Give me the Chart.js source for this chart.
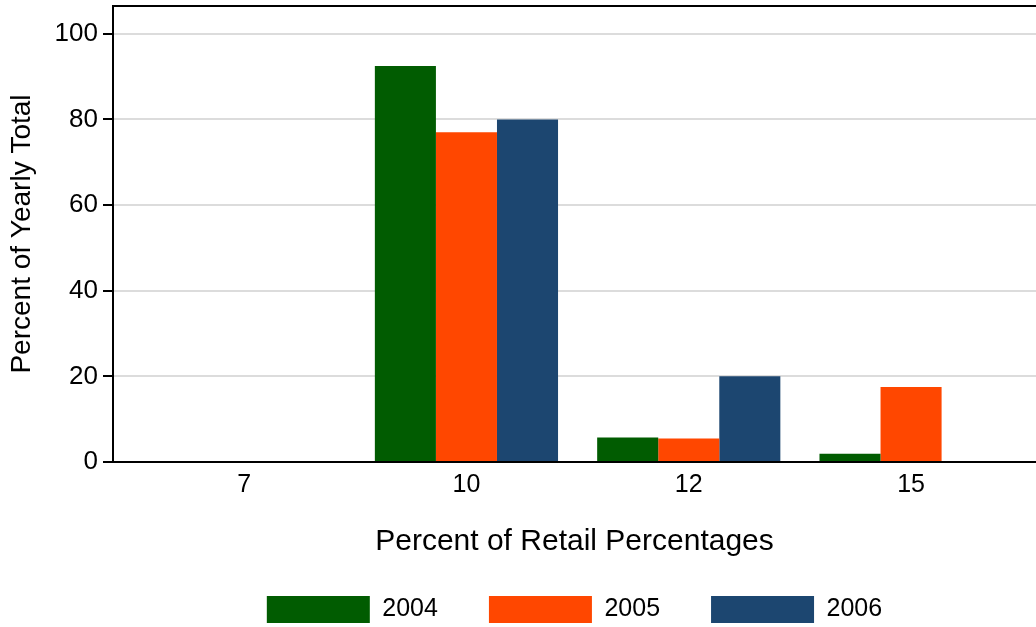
<!DOCTYPE html>
<html>
<head>
<meta charset="utf-8">
<script src="https://cdn.jsdelivr.net/npm/chart.js@4.4.0/dist/chart.umd.min.js"></script>
<style>
    html, body { margin: 0; padding: 0; background: #fff; }
    #wrap { width: 1036px; height: 627px; position: relative; }
</style>
</head>
<body>
<div id="wrap"><canvas id="barChartRetail"></canvas></div>
<script>
const categories = ['7', '10', '12', '15'];
const years = ['2004', '2005', '2006'];
const data2004 = [0, 92.5, 5.7, 1.9];
const data2005 = [0, 77.0, 5.5, 17.5];
const data2006 = [0, 80.0, 20.0, 0];
const yTicks = [0, 20, 40, 60, 80, 100];

const colors = ['#015c01', '#ff4700', '#1c4670'];
const series = [data2004, data2005, data2006];

// box around plot top + legend centred under the plot area
const plotFrame = {
    id: 'plotFrame',
    beforeDraw(chart) {
        const legend = chart.legend;
        const mid = (chart.chartArea.left + chart.chartArea.right) / 2;
        const w = legend.width;
        legend.left = mid - w / 2;
        legend.right = mid + w / 2;
    },
    afterDraw(chart) {
        const { ctx, chartArea } = chart;
        ctx.save();
        ctx.strokeStyle = '#000';
        ctx.lineWidth = 2;
        ctx.beginPath();
        ctx.moveTo(chartArea.left, chartArea.top);
        ctx.lineTo(chartArea.right, chartArea.top);
        ctx.stroke();
        ctx.restore();
    }
};

const canvas = document.getElementById('barChartRetail');
new Chart(canvas.getContext('2d'), {
    type: 'bar',
    data: {
        datasets: years.map((y, k) => ({
            label: y,
            backgroundColor: colors[k],
            borderWidth: 0,
            data: series[k].map((v, i) => ({ x: i, y: v }))
        }))
    },
    options: {
        responsive: true,
        maintainAspectRatio: false,
        animation: false,
        categoryPercentage: 0.824,
        barPercentage: 1.0,
        layout: { padding: { top: 6, left: 5, right: 0, bottom: -6 } },
        plugins: {
            legend: {
                position: 'bottom',
                labels: {
                    boxWidth: 103,
                    boxHeight: 27,
                    padding: 51,
                    color: '#000',
                    font: { family: 'Liberation Sans', size: 25 }
                }
            },
            tooltip: { enabled: false }
        },
        scales: {
            x: {
                type: 'linear',
                offset: false,
                min: -0.59,
                max: 3.562,
                afterBuildTicks: function (axis) {
                    axis.ticks = categories.map((c, i) => ({ value: i }));
                },
                ticks: {
                    color: '#000',
                    font: { family: 'Liberation Sans', size: 25 },
                    padding: 8,
                    callback: function (value) {
                        return categories[value];
                    }
                },
                grid: { display: false, drawTicks: false },
                border: { color: '#000', width: 2 },
                title: {
                    display: true,
                    text: 'Percent of Retail Percentages',
                    color: '#000',
                    font: { family: 'Liberation Sans', size: 30 },
                    padding: { top: 16, bottom: -15 }
                }
            },
            y: {
                min: 0,
                max: 106.5,
                afterBuildTicks: function (axis) {
                    axis.ticks = yTicks.map(v => ({ value: v }));
                },
                afterFit: function (axis) {
                    axis.paddingTop = 0;
                    axis.paddingBottom = 0;
                },
                ticks: {
                    color: '#000',
                    font: { family: 'Liberation Sans', size: 26 },
                    padding: 5
                },
                grid: {
                    color: '#dcdcdc',
                    lineWidth: 2,
                    tickColor: '#000',
                    tickLength: 10,
                    tickWidth: 2
                },
                border: { color: '#000', width: 2 },
                title: {
                    display: true,
                    text: 'Percent of Yearly Total',
                    color: '#000',
                    font: { family: 'Liberation Sans', size: 28 },
                    padding: { top: 0, bottom: 11 }
                }
            }
        }
    },
    plugins: [plotFrame]
});
</script>
</body>
</html>
